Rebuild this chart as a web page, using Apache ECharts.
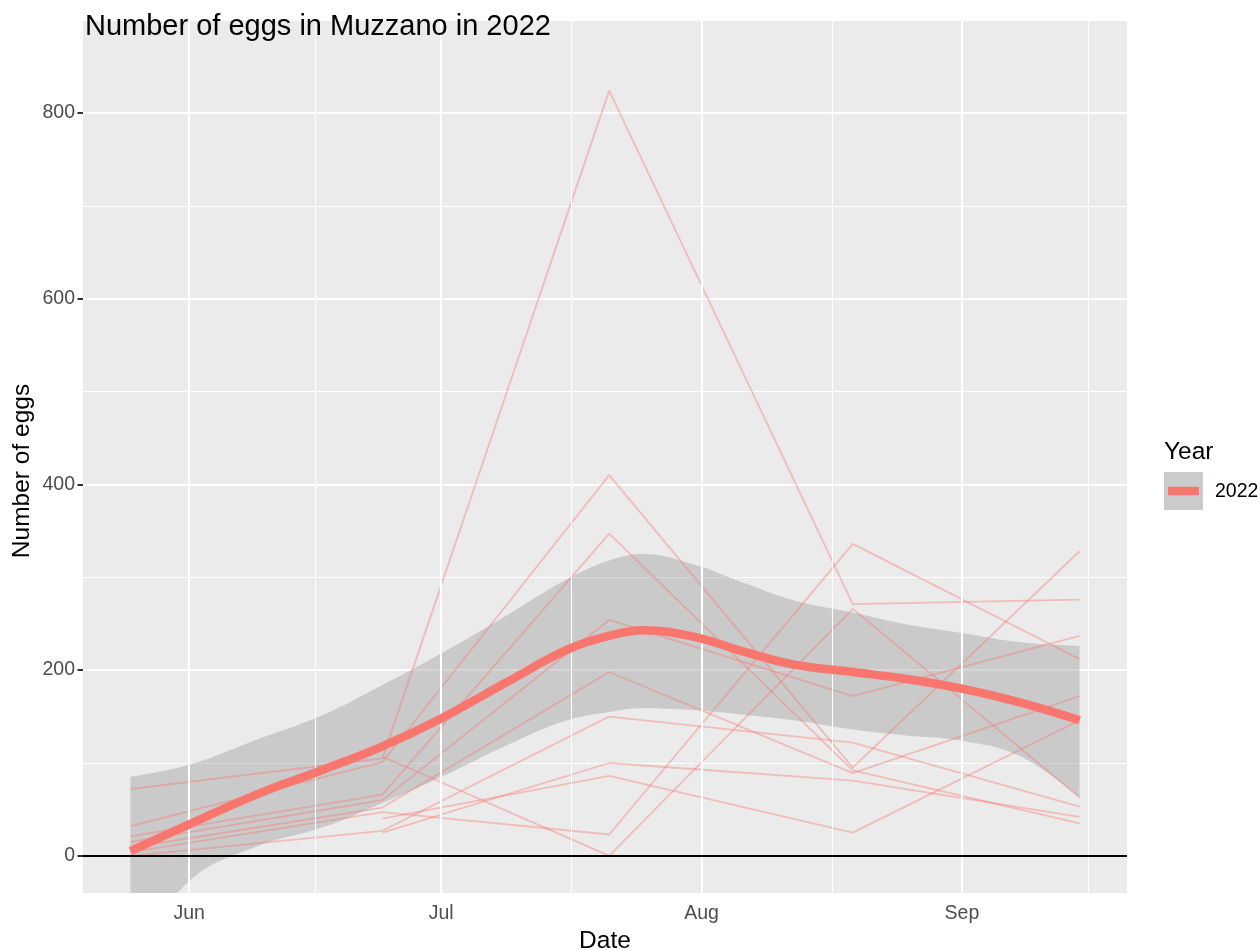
<!DOCTYPE html>
<html><head><meta charset="utf-8">
<script src="https://cdn.jsdelivr.net/npm/echarts@6/dist/echarts.min.js"></script>
<style>html,body{margin:0;padding:0;background:#fff}#c{width:1260px;height:950px}</style>
</head><body><div id="c"></div>
<script>
// ---- data (x = day of year 2022) ----
const sampleDays = [145, 175, 202, 231, 258];           // May 25, Jun 24, Jul 21, Aug 19, Sep 15
const monthTickDays = [152, 182, 213, 244];             // Jun 1, Jul 1, Aug 1, Sep 1
const monthTickLabels = ['Jun', 'Jul', 'Aug', 'Sep'];
const minorTickDays = [167, 197.5, 228.5, 259];
const yTickValues = [0, 200, 400, 600, 800];

const trap1  = [72, 105, 824, 271, 276];
const trap2  = [32, 101, 410, 95, 328];
const trap3  = [null, 107, 0, 266, 63];
const trap4  = [21, 66, 347, 92, 35];
const trap5  = [15, 60, 254, 172, 237];
const trap6  = [9, 52, 198, 89, 172];
const trap7  = [4, 47, 23, 336, 212];
const trap8  = [0, 27, 150, 122, 53];
const trap9  = [null, 25, 100, 81, 42];
const trap10 = [null, 40, 86, 25, 146];

const smoothDays  = [145, 152, 160, 168, 175, 182, 190, 197, 202, 206, 212, 218, 224, 231, 237, 244, 251, 258];
const smoothFit   = [5, 34, 66, 93, 118, 148, 188, 222, 237, 243, 236, 220, 206, 198, 191, 180, 165, 146];
const ribbonUpper = [85, 98, 125, 152, 184, 218, 260, 298, 318, 325, 314, 294, 275, 262, 250, 240, 230, 226];
const ribbonLower = [-110, -27, 10, 31, 57, 85, 120, 146, 155, 159, 157, 152, 146, 136, 130, 124, 107, 63];

const traps = [trap1, trap2, trap3, trap4, trap5, trap6, trap7, trap8, trap9, trap10];

// ---- chart ----
const FONT = 'Liberation Sans, Arial, Helvetica, sans-serif';
const SALMON = '#F8766D';
const chart = echarts.init(document.getElementById('c'));

const zip = (xs, ys) => xs.map((x, i) => [x, ys[i]]);
// [value, day] rows so that the stacked dimension is the value (encoded on y)
const zipVY = (xs, ys) => xs.map((x, i) => [ys[i], x]);

const series = [];
// vertical gridlines (major + minor)
series.push({
  type: 'line', data: [], z: 1, silent: true,
  markLine: {
    silent: true, symbol: ['none', 'none'], animation: false,
    label: { show: false },
    data: monthTickDays.map(d => ({ xAxis: d, lineStyle: { color: '#FFFFFF', width: 2.1, type: 'solid' } }))
      .concat(minorTickDays.map(d => ({ xAxis: d, lineStyle: { color: '#FFFFFF', width: 1.1, type: 'solid' } })))
  }
});
// ribbon (confidence band)
series.push({
  type: 'line', stack: 'ci', stackStrategy: 'all', z: 2, silent: true,
  encode: { x: 1, y: 0 },
  data: zipVY(smoothDays, ribbonLower), symbol: 'none', smooth: 0.4,
  lineStyle: { opacity: 0, width: 0 }
});
series.push({
  type: 'line', stack: 'ci', stackStrategy: 'all', z: 2, silent: true,
  encode: { x: 1, y: 0 },
  data: zipVY(smoothDays, ribbonUpper.map((u, i) => u - ribbonLower[i])), symbol: 'none', smooth: 0.4,
  lineStyle: { opacity: 0, width: 0 },
  areaStyle: { color: 'rgba(153,153,153,0.4)', opacity: 1 }
});
// zero line
series.push({
  type: 'line', data: [], z: 3, silent: true,
  markLine: {
    silent: true, symbol: ['none', 'none'], animation: false,
    label: { show: false },
    data: [{ yAxis: 0, lineStyle: { color: '#000000', width: 1.8, type: 'solid' } }]
  }
});
// individual traps
traps.forEach(t => {
  series.push({
    type: 'line', z: 4, silent: true, symbol: 'none', connectNulls: false,
    data: zip(sampleDays, t),
    lineStyle: { color: 'rgba(248,118,109,0.4)', width: 1.8 }
  });
});
// smooth fit
series.push({
  type: 'line', z: 5, silent: true, symbol: 'none', smooth: 0.4,
  data: zip(smoothDays, smoothFit),
  lineStyle: { color: SALMON, width: 8.5, cap: 'butt' }
});

chart.setOption({
  animation: false,
  backgroundColor: '#FFFFFF',
  textStyle: { fontFamily: FONT },
  title: {
    text: 'Number of eggs in Muzzano in 2022', left: 80, top: 7,
    textStyle: { fontFamily: FONT, fontSize: 29, fontWeight: 'normal', color: '#000000' }
  },
  grid: {
    left: 83, right: 133, top: 21, bottom: 57,
    containLabel: false, outerBoundsMode: 'none',
    show: true, backgroundColor: '#EBEBEB', borderWidth: 0
  },
  xAxis: {
    type: 'value', min: 139.35, max: 263.65,
    name: 'Date', nameLocation: 'middle', nameGap: 30,
    nameTextStyle: { fontFamily: FONT, fontSize: 24.5, color: '#000000' },
    axisLine: { show: false },
    axisTick: { show: true, customValues: monthTickDays, length: 5.5, lineStyle: { color: '#333333', width: 2 } },
    axisLabel: {
      customValues: monthTickDays, margin: 11,
      fontFamily: FONT, fontSize: 19.5, color: '#4D4D4D',
      formatter: v => monthTickLabels[monthTickDays.indexOf(v)] || ''
    },
    splitLine: { show: false }, minorSplitLine: { show: false }
  },
  yAxis: {
    type: 'value', min: -40, max: 899, minInterval: 200, maxInterval: 200,
    axisLine: { show: false },
    axisTick: { show: true, customValues: yTickValues, length: 5.5, lineStyle: { color: '#333333', width: 2 } },
    axisLabel: {
      customValues: yTickValues, margin: 8,
      fontFamily: FONT, fontSize: 19.5, color: '#4D4D4D'
    },
    splitLine: { show: true, lineStyle: { color: '#FFFFFF', width: 2.1 } },
    minorTick: { show: false, splitNumber: 2 },
    minorSplitLine: { show: true, lineStyle: { color: '#FFFFFF', width: 1.1 } }
  },
  graphic: [
    { type: 'text', x: 22, y: 471, rotation: Math.PI / 2,
      style: { text: 'Number of eggs', font: '24.5px ' + FONT, fill: '#000000', align: 'center', verticalAlign: 'middle' } },
    { type: 'text', left: 1164, top: 440, style: { text: 'Year', font: '24.5px ' + FONT, fill: '#000000' } },
    { type: 'rect', shape: { x: 1164, y: 472, width: 39, height: 38 }, style: { fill: '#CBCBCB' } },
    { type: 'line', shape: { x1: 1168, y1: 491, x2: 1199, y2: 491 }, style: { stroke: SALMON, lineWidth: 8.5 } },
    { type: 'text', x: 1215, y: 492, style: { text: '2022', font: '19.5px ' + FONT, fill: '#000000', verticalAlign: 'middle' } }
  ],
  series: series
});
</script>
</body></html>
